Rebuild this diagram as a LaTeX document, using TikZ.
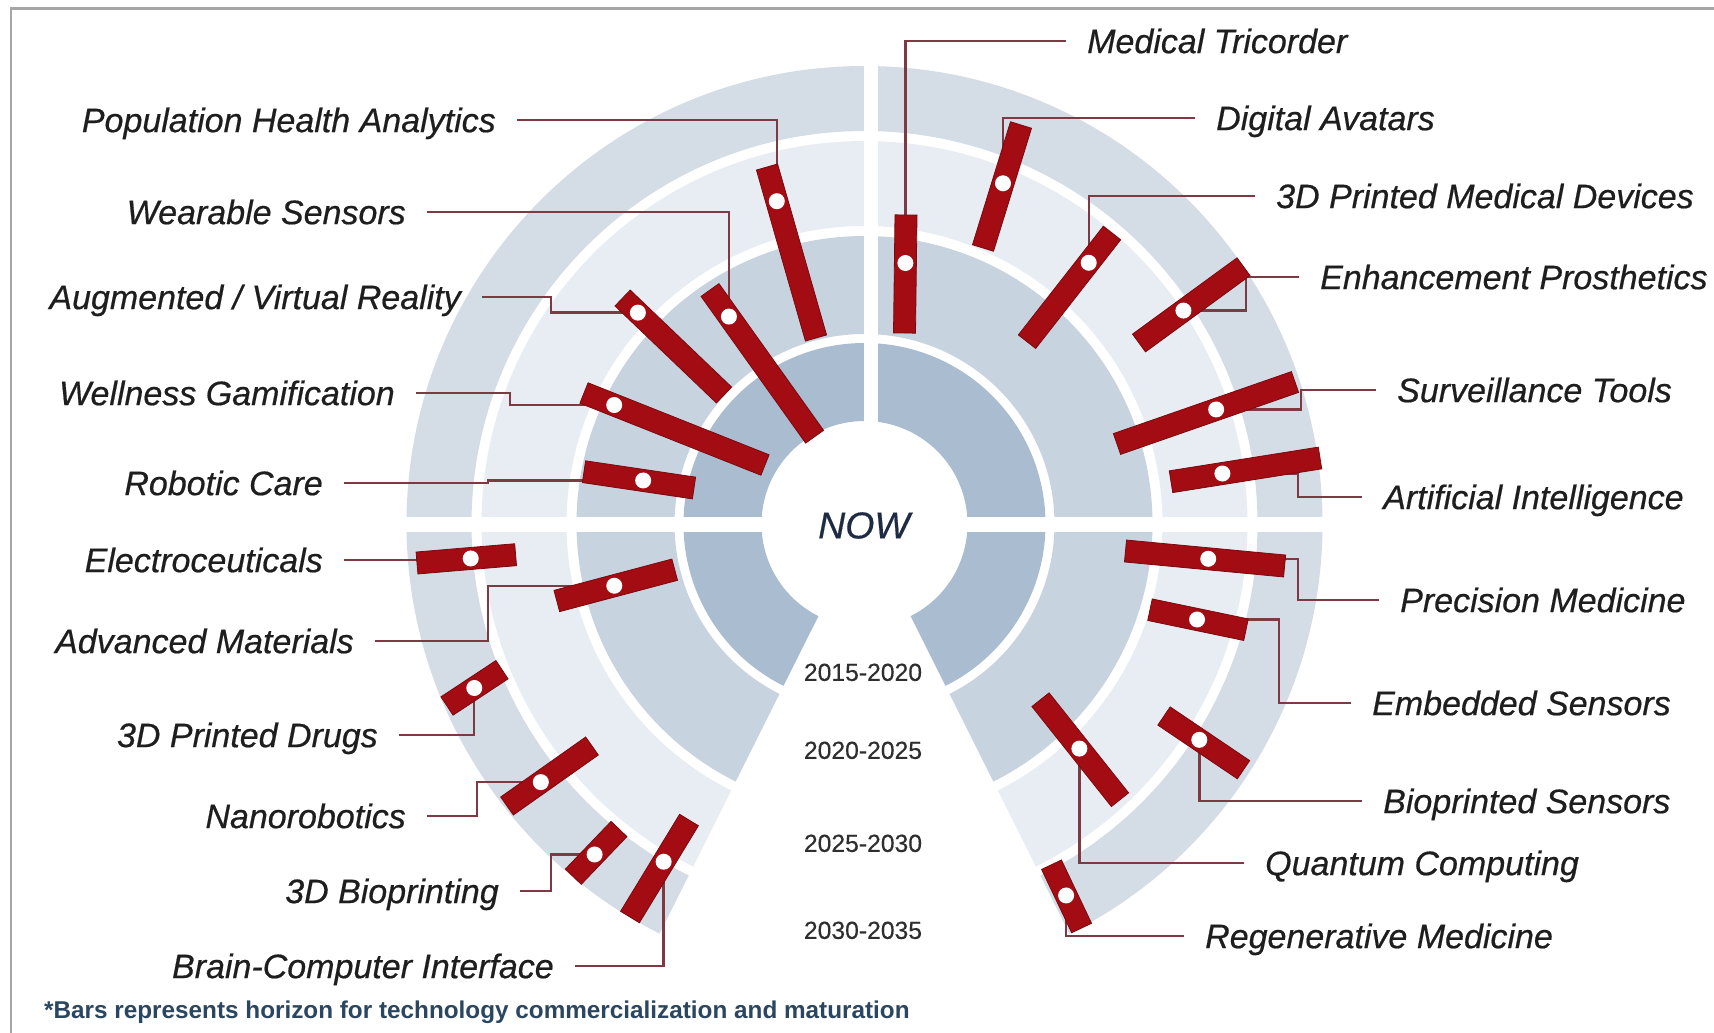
\documentclass[tikz,border=0pt]{standalone}
\usepackage{fontspec}
\setmainfont{Liberation Sans}
\newfontfamily\labfont{Liberation Sans}[FakeBold=0.5]
\newfontfamily\yearfont{Liberation Sans}[FakeBold=0.4]
\usetikzlibrary{calc}
\definecolor{ringA}{HTML}{AABCD0}
\definecolor{ringB}{HTML}{C8D3E0}
\definecolor{ringC}{HTML}{E8EDF3}
\definecolor{ringD}{HTML}{D4DCE6}
\definecolor{barred}{HTML}{A20C12}
\definecolor{bardark}{HTML}{7A0A0E}
\definecolor{connc}{HTML}{7D3A42}
\definecolor{labc}{HTML}{1E1E1E}
\definecolor{nowc}{HTML}{1E2B42}
\definecolor{notec}{HTML}{2B4660}
\definecolor{framec}{HTML}{A6A6A6}
\definecolor{yearc}{HTML}{2E2E2E}
\newcommand\ringsector[5]{\fill[#1] (#2:#4) arc[start angle=#2, end angle=#3, radius=#4] -- (#3:#5) arc[start angle=#3, end angle=#2, radius=#5] -- cycle;}
\newcommand\defbar[4]{\coordinate (#1a) at #2; \coordinate (#1b) at #3; \coordinate (#1d) at ($(#1a)!#4!(#1b)$);}
\newcommand\drawbar[1]{\fill[barred, draw=bardark, line width=0.8pt] ($(#1a)!11pt!90:(#1b)$) -- ($(#1b)!11pt!-90:(#1a)$) -- ($(#1b)!11pt!90:(#1a)$) -- ($(#1a)!11pt!-90:(#1b)$) -- cycle;}
\begin{document}
\begin{tikzpicture}[x=1pt,y=-1pt,
  lab/.style={font=\labfont\fontsize{34}{40}\selectfont\itshape, text=labc, inner sep=0pt, text height=24.3pt, text depth=0pt},
  labL/.style={lab, anchor=east},
  labR/.style={lab, anchor=west},
  dotnode/.style={circle, fill=white, inner sep=0pt, minimum size=16pt},
  conn/.style={draw=connc, line width=2.4pt},
  yearlab/.style={font=\yearfont\fontsize{24.7}{28}\selectfont, text=yearc, inner sep=0pt, text height=17.7pt, text depth=0pt},
]
\useasboundingbox (0,0) rectangle (1714,1033);
\fill[white] (0,0) rectangle (1714,1033);
\draw[framec, line width=2.5pt] (11,1040) -- (11,8.5) -- (1720,8.5);
% rings
\begin{scope}[shift={(864.5,524)}]
\foreach \a/\b in {180/270, 270/360, 0/63.43, 116.57/180} {
  \ringsector{ringA}{\a}{\b}{103}{181}
  \ringsector{ringB}{\a}{\b}{190}{288}
  \ringsector{ringC}{\a}{\b}{298}{383}
  \ringsector{ringD}{\a}{\b}{393}{458}
}
\end{scope}
\fill[white] (380,516.7) rectangle (1350,531.7);
\fill[white] (864,40) rectangle (878,524);
% centre texts
\node[font=\labfont\fontsize{37.5}{40}\selectfont\itshape, text=nowc, inner sep=0pt, text height=26.8pt, text depth=0pt] (now) at (864,525) {NOW};
\node[yearlab] (y1) at (863,672) {2015-2020};
\node[yearlab] (y2) at (863,750) {2020-2025};
\node[yearlab] (y3) at (863,843) {2025-2030};
\node[yearlab] (y4) at (863,930) {2030-2035};
% bars: coordinates
\defbar{pha}{(767,167)}{(816,338)}{0.20}
\defbar{ws}{(710,290)}{(814.6,436.7)}{0.181}
\defbar{arvr}{(622.6,298)}{(724,395)}{0.151}
\defbar{wg}{(584,393)}{(765,465)}{0.167}
\defbar{rc}{(584,471.7)}{(694,488)}{0.538}
\defbar{mt}{(906,215)}{(904.5,333)}{0.407}
\defbar{da}{(1021,125)}{(983,248)}{0.474}
\defbar{pmd}{(1112,233)}{(1027,341.7)}{0.274}
\defbar{ep}{(1243.5,266.7)}{(1139,343)}{0.575}
\defbar{st}{(1295,382)}{(1117,444)}{0.443}
\defbar{ai}{(1320,458)}{(1171,481.7)}{0.655}
\defbar{el}{(417,563)}{(515.6,554.7)}{0.545}
\defbar{am}{(556.8,601)}{(674.7,569.7)}{0.4875}
\defbar{pd}{(447,706)}{(502,669.7)}{0.496}
\defbar{nr}{(507,806)}{(592,746)}{0.398}
\defbar{bp}{(573.3,876.7)}{(619,829)}{0.466}
\defbar{bci}{(630,917)}{(689,820)}{0.57}
\defbar{pme}{(1125.5,551)}{(1284.6,566)}{0.52}
\defbar{es}{(1150,609.7)}{(1246,629.7)}{0.49}
\defbar{bs}{(1164,716)}{(1243.5,769.7)}{0.444}
\defbar{qc}{(1040.5,699.7)}{(1120,799.7)}{0.489}
\defbar{rm}{(1051.5,864.7)}{(1081.6,928)}{0.486}
% labels
\node[labL] (pha) at (496,120) {Population Health Analytics};
\node[labL] (ws) at (406,212) {Wearable Sensors};
\node[labL] (arvr) at (461,297) {Augmented / Virtual Reality};
\node[labL] (wg) at (395,393) {Wellness Gamification};
\node[labL] (rc) at (323,483) {Robotic Care};
\node[labL] (el) at (323,560) {Electroceuticals};
\node[labL] (am) at (354,641) {Advanced Materials};
\node[labL] (pd) at (378,735) {3D Printed Drugs};
\node[labL] (nr) at (406,816) {Nanorobotics};
\node[labL] (bp) at (499,891) {3D Bioprinting};
\node[labL] (bci) at (554,966) {Brain-Computer Interface};
\node[labR] (mt) at (1087,41) {Medical Tricorder};
\node[labR] (da) at (1216,118) {Digital Avatars};
\node[labR] (pmd) at (1276,196) {3D Printed Medical Devices};
\node[labR] (ep) at (1320,277) {Enhancement Prosthetics};
\node[labR] (st) at (1397,390) {Surveillance Tools};
\node[labR] (ai) at (1383,497) {Artificial Intelligence};
\node[labR] (pme) at (1400,600) {Precision Medicine};
\node[labR] (es) at (1372,703) {Embedded Sensors};
\node[labR] (bs) at (1383,801) {Bioprinted Sensors};
\node[labR] (qc) at (1265,863) {Quantum Computing};
\node[labR] (rm) at (1205,936) {Regenerative Medicine};
% connectors
\draw[conn] ([xshift=21pt]pha.east) -| (phad);
\draw[conn] ([xshift=21pt]ws.east) -| (wsd);
\draw[conn] ([xshift=21pt]arvr.east) -- ++(69,0) |- (arvrd);
\draw[conn] ([xshift=21pt]wg.east) -- ++(94,0) |- (wgd);
\draw[conn] ([xshift=21pt]rc.east) -- ++(144,0) |- (rcd);
\draw[conn] ([xshift=21pt]el.east) -| (eld);
\draw[conn] ([xshift=21pt]am.east) -- ++(113,0) |- (amd);
\draw[conn] ([xshift=21pt]pd.east) -| (pdd);
\draw[conn] ([xshift=21pt]nr.east) -- ++(50,0) |- (nrd);
\draw[conn] ([xshift=21pt]bp.east) -- ++(31,0) |- (bpd);
\draw[conn] ([xshift=21pt]bci.east) -| (bcid);
\draw[conn] ([xshift=-21pt]mt.west) -| (mtd);
\draw[conn] ([xshift=-21pt]da.west) -| (dad);
\draw[conn] ([xshift=-21pt]pmd.west) -| (pmdd);
\draw[conn] ([xshift=-21pt]ep.west) -- ++(-53,0) |- (epd);
\draw[conn] ([xshift=-21pt]st.west) -- ++(-75,0) |- (std);
\draw[conn] ([xshift=-21pt]ai.west) -- ++(-64,0) |- (aid);
\draw[conn] ([xshift=-21pt]pme.west) -- ++(-81,0) |- (pmed);
\draw[conn] ([xshift=-21pt]es.west) -- ++(-72,0) |- (esd);
\draw[conn] ([xshift=-21pt]bs.west) -| (bsd);
\draw[conn] ([xshift=-21pt]qc.west) -| (qcd);
\draw[conn] ([xshift=-21pt]rm.west) -| (rmd);
% bars and dots
\foreach \n in {pha,ws,arvr,wg,rc,mt,da,pmd,ep,st,ai,el,am,pd,nr,bp,bci,pme,es,bs,qc,rm} {
  \drawbar{\n}
  \node[dotnode] (\n dot) at (\n d) {};
}
% footnote
\node[anchor=base west, font=\fontsize{24.3}{28}\selectfont\bfseries, text=notec, inner sep=0pt] (note) at (44,1018) {*Bars represents horizon for technology commercialization and maturation};
\end{tikzpicture}
\end{document}
